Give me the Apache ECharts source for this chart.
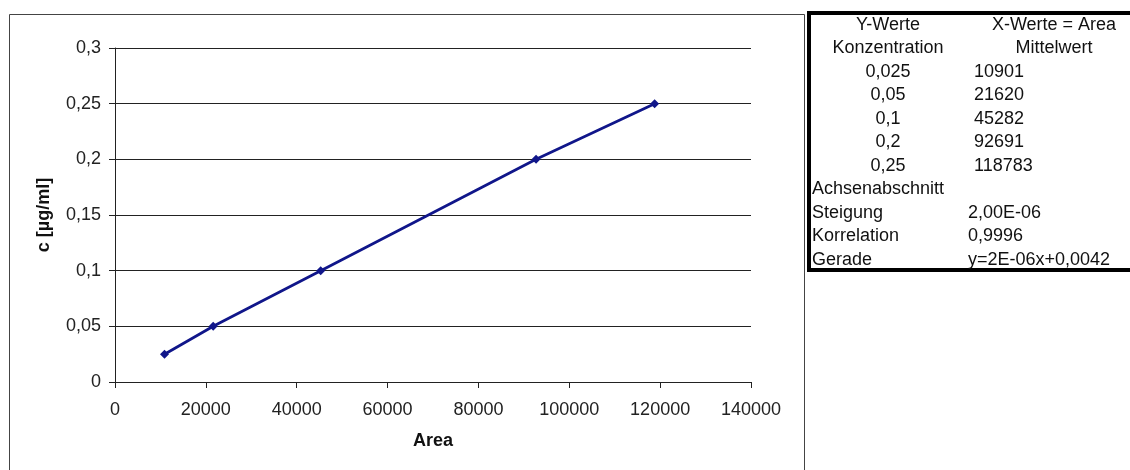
<!DOCTYPE html>
<html>
<head>
<meta charset="utf-8">
<script src="https://cdn.jsdelivr.net/npm/echarts@6/dist/echarts.min.js"></script>
<style>
  html, body { margin: 0; padding: 0; background: #fff; }
  #chart { width: 1130px; height: 470px; }
</style>
</head>
<body>
<div id="chart"></div>
<script>
// Calibration: mean peak area (x) against concentration (y)
const concentration = [0.025, 0.05, 0.1, 0.2, 0.25];
const areaMean = [10901, 21620, 45282, 92691, 118783];
const xTicks = { min: 0, max: 140000, interval: 20000 };
const yTicks = { min: 0, max: 0.3, interval: 0.05 };

// Regression summary rows
const statLabels = ['Achsenabschnitt', 'Steigung', 'Korrelation', 'Gerade'];
const statValues = ['', '2,00E-06', '0,9996', 'y=2E-06x+0,0042'];
const headerLeft = ['Y-Werte', 'Konzentration'];
const headerRight = ['X-Werte = Area', 'Mittelwert'];

const FONT = '"Liberation Sans", Arial, sans-serif';
const FS = 18;
const comma = v => String(v).replace('.', ',');

const chart = echarts.init(document.getElementById('chart'));

// Side table drawn as graphic elements
const tableLeft = 809, tableTop = 13, rowH = 23.5, firstRowY = 25;
const tableEls = [];
tableEls.push({
  type: 'rect', z: 10,
  shape: { x: tableLeft, y: tableTop, width: 330, height: 257 },
  style: { fill: '#fff', stroke: '#000', lineWidth: 4 }
});
let row = 0;
const addText = (text, x, align, r) => {
  tableEls.push({
    type: 'text', z: 11, x: x, y: firstRowY + r * rowH,
    style: { text: text, fill: '#111', font: FS + 'px ' + FONT, align: align, verticalAlign: 'middle' }
  });
};
for (let i = 0; i < headerLeft.length; i++, row++) {
  addText(headerLeft[i], 888, 'center', row);
  addText(headerRight[i], 1054, 'center', row);
}
for (let i = 0; i < concentration.length; i++, row++) {
  addText(comma(concentration[i]), 888, 'center', row);
  addText(String(areaMean[i]), 974, 'left', row);
}
for (let i = 0; i < statLabels.length; i++, row++) {
  addText(statLabels[i], 812, 'left', row);
  if (statValues[i]) addText(statValues[i], 968, 'left', row);
}

const option = {
  backgroundColor: '#fff',
  animation: false,
  grid: { left: 115, top: 48, right: 379, bottom: 88 },
  graphic: [
    {
      type: 'rect', z: -1, silent: true,
      shape: { x: 9.5, y: 14.5, width: 795, height: 470 },
      style: { fill: 'none', stroke: '#444', lineWidth: 1 }
    }
  ].concat(tableEls),
  xAxis: {
    type: 'value',
    min: xTicks.min, max: xTicks.max, interval: xTicks.interval,
    name: 'Area', nameLocation: 'middle', nameGap: 50,
    nameTextStyle: { fontFamily: FONT, fontSize: 18, fontWeight: 'bold', color: '#111' },
    axisLine: { show: true, lineStyle: { color: '#222', width: 1 } },
    axisTick: { show: true, length: 6, lineStyle: { color: '#222' } },
    axisLabel: { margin: 19, fontFamily: FONT, fontSize: FS, color: '#222', formatter: v => String(v) },
    splitLine: { show: false }
  },
  yAxis: {
    type: 'value',
    min: yTicks.min, max: yTicks.max, interval: yTicks.interval,
    name: 'c [µg/ml]', nameLocation: 'middle', nameGap: 62, nameRotate: 90,
    nameTextStyle: { fontFamily: FONT, fontSize: 18, fontWeight: 'bold', color: '#111' },
    axisLine: { show: true, lineStyle: { color: '#222', width: 1 } },
    axisTick: { show: true, length: 6, lineStyle: { color: '#222' } },
    axisLabel: { margin: 14, fontFamily: FONT, fontSize: FS, color: '#222', formatter: v => comma(+v.toFixed(3)) },
    splitLine: { show: true, lineStyle: { color: '#222', width: 1 } }
  },
  series: [{
    type: 'line',
    data: areaMean.map((a, i) => [a, concentration[i]]),
    symbol: 'diamond', symbolSize: 9,
    lineStyle: { color: '#10168a', width: 2.8 },
    itemStyle: { color: '#10168a' }
  }]
};
chart.setOption(option);
</script>
</body>
</html>
